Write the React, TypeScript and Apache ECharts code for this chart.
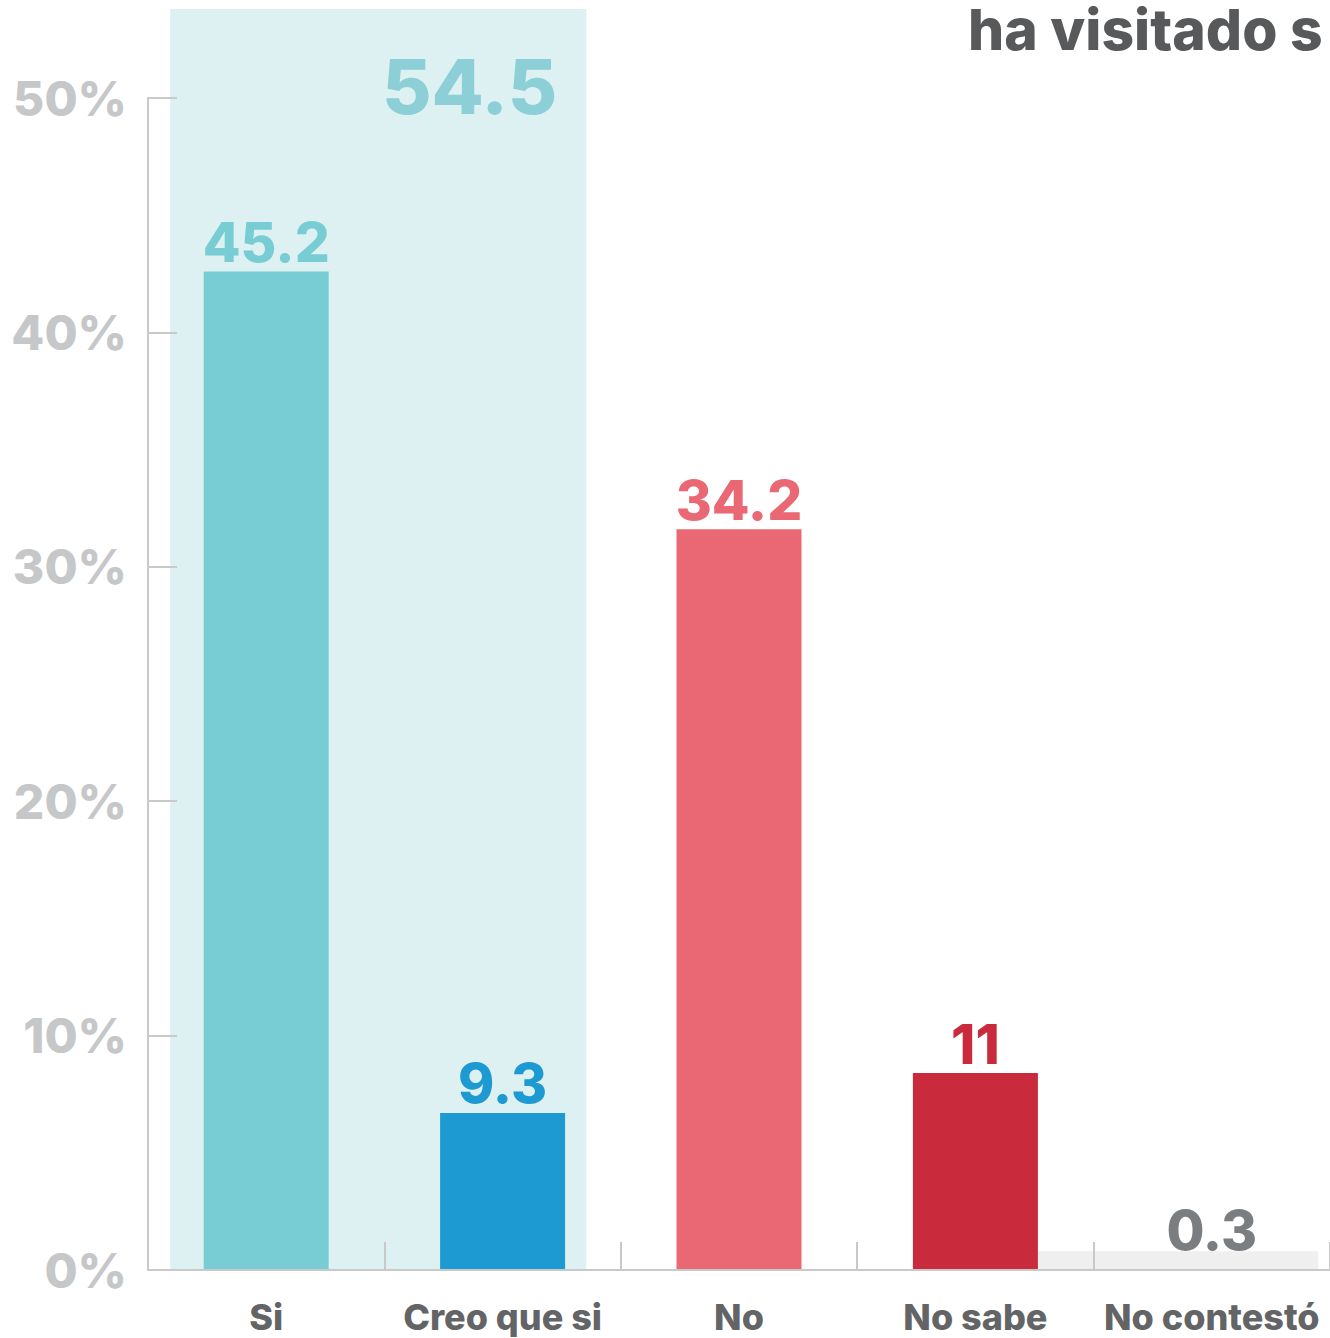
import React, { useEffect, useRef } from "react";
import * as echarts from "echarts";

// ---- data ----
const categories = ["Si", "Creo que si", "No", "No sabe", "No contestó"];
// bar heights as drawn in the picture (percent on the visible axis)
const barHeights = [42.6, 6.7, 31.6, 8.4, 0.8];
// printed value labels
const valueLabels = ["45.2", "9.3", "34.2", "11", "0.3"];
const barColors = ["#77cdd3", "#1e9ad3", "#e96874", "#ca2b3c", "transparent"];
const labelColors = ["#77cdd3", "#1e9ad3", "#e96874", "#ca2b3c", "#7b7e81"];
// grouped "yes" band (Si + Creo que si)
const groupHeight = 53.8;
const groupLabel = "54.5";
// "No contestó" grey bar height
const greyBarHeight = 0.8;
const yMin = 0;
const yMax = 50;
const yInterval = 10;
const titleText = "ha visitado s";

const FONT = "Inter, 'Noto Sans', sans-serif";

export default function App() {
  const ref = useRef<HTMLDivElement>(null);

  useEffect(() => {
    if (!ref.current) return;
    const chart = echarts.init(ref.current, undefined, { renderer: "svg" });

    const option: any = {
      animation: false,
      backgroundColor: "#ffffff",
      grid: { left: 148, right: -3, top: 98, bottom: 68, containLabel: false },
      xAxis: {
        type: "category",
        data: categories,
        z: 5,
        axisLine: { show: true, lineStyle: { color: "#c9c9c9", width: 2 } },
        axisTick: {
          show: true,
          inside: true,
          length: 28,
          lineStyle: { color: "#c9c9c9", width: 2 },
        },
        axisLabel: {
          interval: 0,
          margin: 29,
          color: "#636466",
          fontFamily: FONT,
          fontWeight: 800,
          fontSize: 36,
        },
      },
      yAxis: {
        type: "value",
        min: yMin,
        max: yMax,
        interval: yInterval,
        z: 5,
        splitLine: { show: false },
        axisLine: { show: true, lineStyle: { color: "#c9c9c9", width: 2 } },
        axisTick: {
          show: true,
          inside: true,
          length: 29,
          lineStyle: { color: "#c9c9c9", width: 2 },
        },
        axisLabel: {
          formatter: "{value}%",
          margin: 21,
          color: "#c6c7c9",
          fontFamily: FONT,
          fontWeight: 800,
          fontSize: 48,
        },
      },
      graphic: [
        {
          type: "text",
          x: 968,
          y: 1,
          z: 10,
          style: {
            text: titleText,
            fill: "#58595b",
            font: `800 57px ${FONT}`,
            textVerticalAlign: "top",
          },
        },
      ],
      series: [
        {
          type: "custom",
          z: 1,
          clip: false,
          data: [[0, groupHeight]],
          renderItem: (params: any, api: any) => {
            const top = api.coord([0, api.value(1)]);
            const right = api.coord([1, 0]);
            const band = api.size([1, 0])[0];
            const x0 = top[0] - 0.406 * band;
            const x1 = right[0] + 0.354 * band;
            return {
              type: "group",
              children: [
                {
                  type: "rect",
                  shape: { x: x0, y: top[1], width: x1 - x0, height: right[1] - top[1] },
                  style: { fill: "#ddf1f3" },
                },
                {
                  type: "text",
                  x: x1 - 29,
                  y: top[1] + 77,
                  style: {
                    text: groupLabel,
                    fill: "#8dcfd7",
                    font: `800 76px ${FONT}`,
                    textAlign: "right",
                    textVerticalAlign: "middle",
                  },
                },
              ],
            };
          },
        },
        {
          type: "custom",
          z: 1,
          clip: false,
          data: [[4, greyBarHeight]],
          renderItem: (params: any, api: any) => {
            const top = api.coord([api.value(0), api.value(1)]);
            const base = api.coord([api.value(0), 0]);
            const band = api.size([1, 0])[0];
            const x0 = top[0] - 0.74 * band;
            const x1 = top[0] + 0.45 * band;
            return {
              type: "rect",
              shape: { x: x0, y: top[1], width: x1 - x0, height: base[1] - top[1] - 1 },
              style: { fill: "#efefef" },
            };
          },
        },
        {
          type: "bar",
          z: 2,
          barWidth: 125,
          data: barHeights.map((v, i) => ({
            value: v,
            itemStyle: { color: barColors[i] },
            label: i === 4 ? { color: labelColors[i], distance: -6 } : { color: labelColors[i] },
          })),
          label: {
            show: true,
            position: "top",
            distance: 2,
            fontFamily: FONT,
            fontWeight: 800,
            fontSize: 55,
            formatter: (p: any) => valueLabels[p.dataIndex],
          },
        },
      ],
    };

    chart.setOption(option);
    return () => chart.dispose();
  }, []);

  return (
    <div
      ref={ref}
      style={{ position: "absolute", left: 0, top: 0, width: 1330, height: 1338 }}
    />
  );
}
